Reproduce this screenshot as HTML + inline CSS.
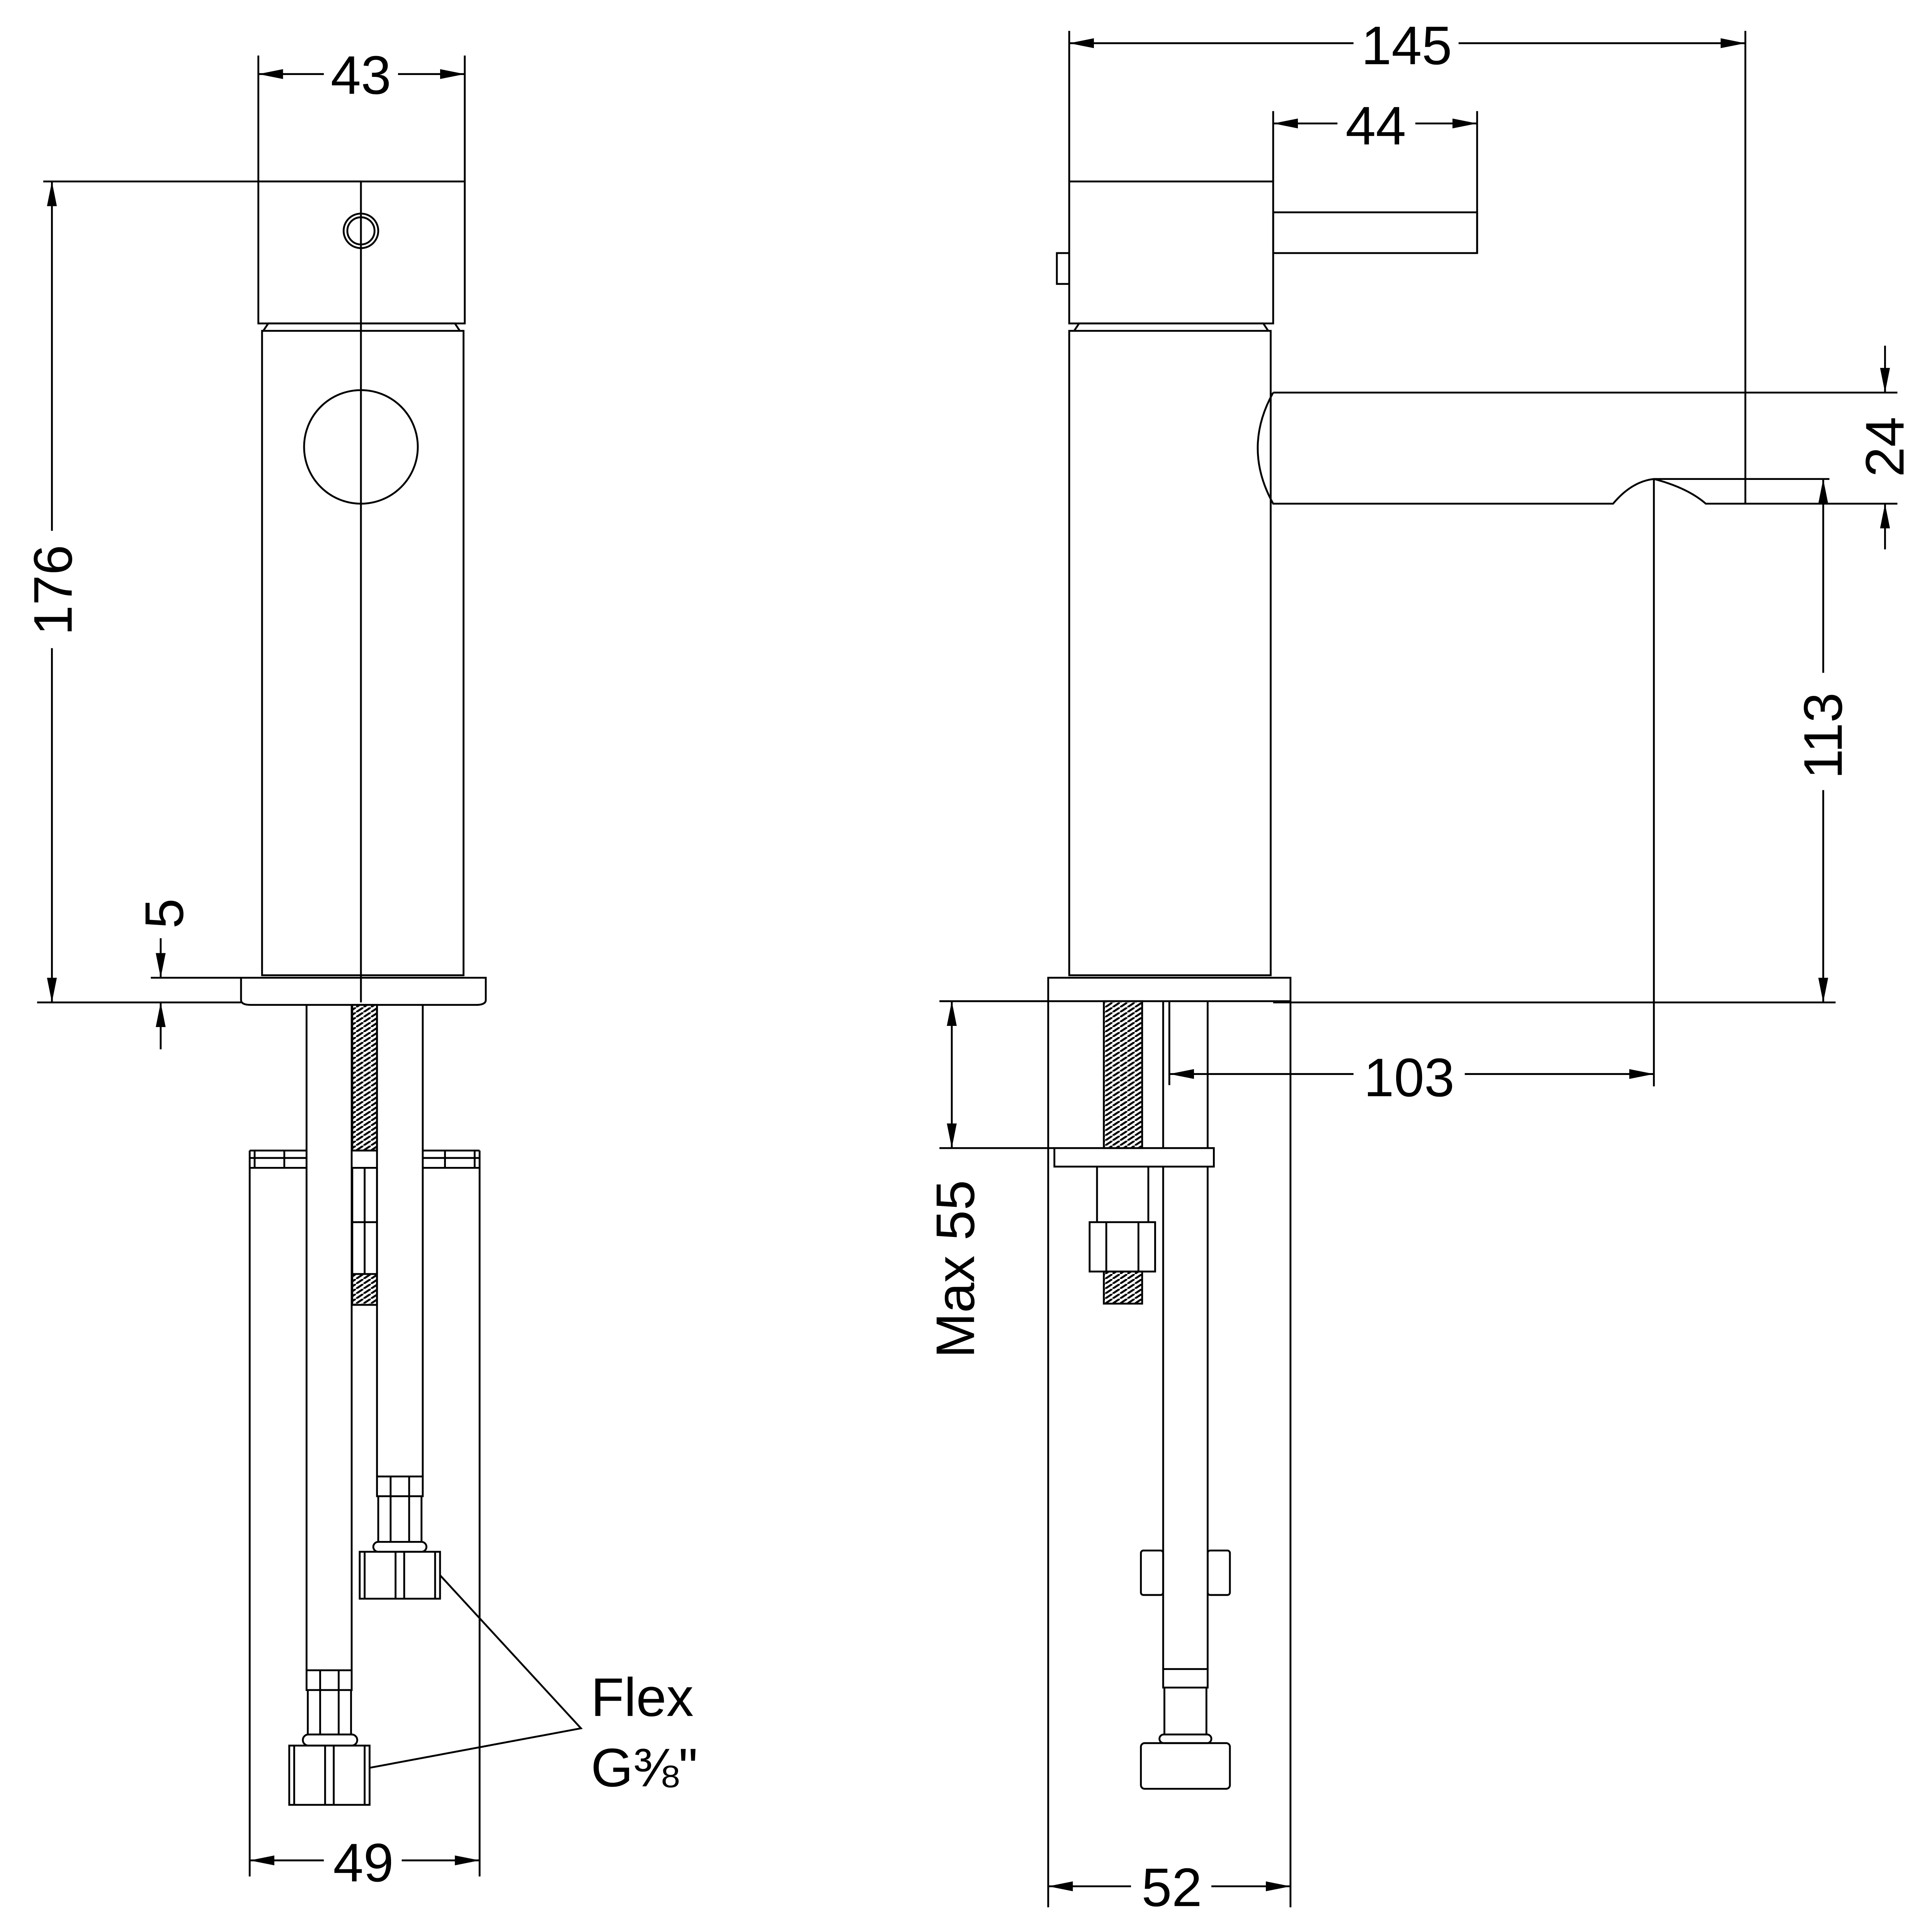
<!DOCTYPE html>
<html><head><meta charset="utf-8"><style>
html,body{margin:0;padding:0;background:#fff;width:100%;height:100%;overflow:hidden}
svg{display:block;width:100vw;height:100vh;position:absolute;left:0;top:0}
text{font-family:"Liberation Sans",sans-serif;font-size:44px;fill:#000}
</style></head><body>
<svg viewBox="0 0 1563 1565" preserveAspectRatio="none" xmlns="http://www.w3.org/2000/svg">
<defs>
<marker id="a" viewBox="0 0 20 8" refX="20" refY="4" markerWidth="20" markerHeight="8" markerUnits="userSpaceOnUse" orient="auto-start-reverse"><path d="M0,0 L20,4 L0,8 z" fill="#000"/></marker>
<pattern id="th" width="6" height="4" patternUnits="userSpaceOnUse"><rect width="6" height="4" fill="#fff"/><path d="M0,4 L6,0" stroke="#000" stroke-width="1.6"/></pattern>
</defs>
<rect width="1563" height="1565" fill="#fff"/>
<g fill="none" stroke="#000" stroke-width="1.5">
<!-- LEFT VIEW -->
<line x1="209" y1="45" x2="209" y2="147"/><line x1="376" y1="45" x2="376" y2="147"/>
<line x1="209" y1="60" x2="262" y2="60" marker-start="url(#a)"/><line x1="322" y1="60" x2="376" y2="60" marker-end="url(#a)"/>
<rect x="209" y="147" width="167" height="115"/>
<circle cx="292" cy="187" r="14"/><circle cx="292" cy="187" r="11"/>
<line x1="292" y1="147" x2="292" y2="812"/>
<path d="M213,268 L217,262 L368,262 L372,268"/>
<rect x="212" y="268" width="163" height="522"/>
<circle cx="292" cy="362" r="46"/>
<path d="M195,792 H393 V810 Q393,814 385,814 H203 Q195,814 195,810 Z"/>
<line x1="35" y1="147" x2="292" y2="147"/><line x1="30" y1="812" x2="195" y2="812"/>
<line x1="42" y1="147" x2="42" y2="430" marker-start="url(#a)"/><line x1="42" y1="525" x2="42" y2="812" marker-end="url(#a)"/>
<line x1="122" y1="792" x2="195" y2="792"/>
<line x1="130" y1="760" x2="130" y2="792" marker-end="url(#a)"/><line x1="130" y1="850" x2="130" y2="812" marker-end="url(#a)"/>
<rect x="285" y="814" width="20" height="118" fill="url(#th)"/>
<line x1="285" y1="946" x2="285" y2="1032"/><line x1="305" y1="946" x2="305" y2="1032"/>
<line x1="285" y1="990" x2="305" y2="990"/><line x1="295" y1="946" x2="295" y2="1032"/>
<rect x="285" y="1032" width="20" height="25" fill="url(#th)"/>
<line x1="248" y1="814" x2="248" y2="1353"/><line x1="284.5" y1="814" x2="284.5" y2="1353"/>
<line x1="305" y1="814" x2="305" y2="1196"/><line x1="342" y1="814" x2="342" y2="1196"/>
<line x1="202" y1="932" x2="202" y2="1520"/><line x1="388" y1="932" x2="388" y2="1520"/>
<path d="M202,932 H248 M202,938 H248 M202,946 H248 M342,932 H388 M342,938 H388 M342,946 H388 M284.5,932 H305 M284.5,946 H305"/>
<path d="M206,932 V946 M230,932 V946 M360,932 V946 M384,932 V946"/>
<line x1="202" y1="1507" x2="262" y2="1507" marker-start="url(#a)"/><line x1="325" y1="1507" x2="388" y2="1507" marker-end="url(#a)"/>
<!-- left hose fitting -->
<rect x="248" y="1353" width="36.5" height="16"/><line x1="259" y1="1353" x2="259" y2="1405"/><line x1="274" y1="1353" x2="274" y2="1405"/>
<line x1="249" y1="1369" x2="249" y2="1405"/><line x1="284" y1="1369" x2="284" y2="1405"/>
<rect x="245" y="1405" width="44" height="9" rx="4.5"/>
<rect x="234" y="1414" width="65" height="48"/><path d="M238,1414 V1462 M263,1414 V1462 M270,1414 V1462 M295,1414 V1462"/>
<!-- right hose fitting -->
<rect x="305" y="1196" width="37" height="16"/><line x1="316" y1="1196" x2="316" y2="1249"/><line x1="331" y1="1196" x2="331" y2="1249"/>
<line x1="306" y1="1212" x2="306" y2="1249"/><line x1="341" y1="1212" x2="341" y2="1249"/>
<rect x="302" y="1249" width="43" height="8" rx="4"/>
<rect x="291" y="1257" width="65" height="38"/><path d="M295,1257 V1295 M320,1257 V1295 M327,1257 V1295 M352,1257 V1295"/>
<polyline points="356,1276 470,1400 299,1432"/>
<!-- RIGHT VIEW -->
<line x1="865" y1="25" x2="865" y2="147"/><line x1="1412" y1="25" x2="1412" y2="408"/>
<line x1="865" y1="35" x2="1095" y2="35" marker-start="url(#a)"/><line x1="1180" y1="35" x2="1412" y2="35" marker-end="url(#a)"/>
<line x1="1030" y1="90" x2="1030" y2="147"/><line x1="1195" y1="90" x2="1195" y2="205"/>
<line x1="1030" y1="100" x2="1082" y2="100" marker-start="url(#a)"/><line x1="1145" y1="100" x2="1195" y2="100" marker-end="url(#a)"/>
<rect x="865" y="147" width="165" height="115"/>
<rect x="1030" y="172" width="165" height="33"/>
<rect x="855" y="205" width="10" height="25"/>
<path d="M869,268 L873,262 L1022,262 L1026,268"/>
<rect x="865" y="268" width="163" height="522"/>
<path d="M1030,318 H1535"/>
<path d="M1030,318 Q1005,363 1030,408 H1305 Q1320,390 1338,388 H1480"/>
<path d="M1338,388 Q1365,395 1380,408 H1535"/>
<line x1="1525" y1="280" x2="1525" y2="318" marker-end="url(#a)"/><line x1="1525" y1="445" x2="1525" y2="408" marker-end="url(#a)"/>
<line x1="1475" y1="388" x2="1475" y2="545" marker-start="url(#a)"/><line x1="1475" y1="640" x2="1475" y2="812" marker-end="url(#a)"/>
<line x1="1030" y1="812" x2="1485" y2="812"/>
<line x1="1338" y1="388" x2="1338" y2="880"/>
<line x1="946" y1="811" x2="946" y2="879"/>
<line x1="946" y1="870" x2="1095" y2="870" marker-start="url(#a)"/><line x1="1185" y1="870" x2="1338" y2="870" marker-end="url(#a)"/>
<rect x="848" y="792" width="196" height="19"/>
<line x1="848" y1="811" x2="848" y2="1545"/><line x1="1044" y1="811" x2="1044" y2="1545"/>
<line x1="848" y1="1528" x2="915" y2="1528" marker-start="url(#a)"/><line x1="980" y1="1528" x2="1044" y2="1528" marker-end="url(#a)"/>
<line x1="760" y1="811" x2="848" y2="811"/><line x1="760" y1="930" x2="853" y2="930"/>
<line x1="770" y1="811" x2="770" y2="930" marker-start="url(#a)" marker-end="url(#a)"/>
<rect x="853" y="930" width="129" height="15"/>
<rect x="893" y="811" width="31" height="119" fill="url(#th)"/>
<line x1="887.5" y1="945" x2="887.5" y2="990"/><line x1="929" y1="945" x2="929" y2="990"/>
<rect x="881.5" y="990" width="53" height="40"/><line x1="895" y1="990" x2="895" y2="1030"/><line x1="921" y1="990" x2="921" y2="1030"/>
<rect x="893" y="1030" width="31" height="26" fill="url(#th)"/>
<line x1="941" y1="811" x2="941" y2="930"/><line x1="977" y1="811" x2="977" y2="930"/>
<line x1="941" y1="945" x2="941" y2="1352"/><line x1="977" y1="945" x2="977" y2="1352"/>
<rect x="923" y="1256" width="18" height="36" rx="2"/><rect x="977" y="1256" width="18" height="36" rx="2"/>
<rect x="941" y="1352" width="36" height="15"/>
<line x1="942" y1="1367" x2="942" y2="1405"/><line x1="976" y1="1367" x2="976" y2="1405"/>
<rect x="938" y="1405" width="42" height="7" rx="3.5"/>
<rect x="923" y="1412" width="72" height="37" rx="3"/>
</g>
<text x="292" y="76" text-anchor="middle">43</text>
<text x="294" y="1524" text-anchor="middle">49</text>
<text transform="translate(58,478) rotate(-90)" text-anchor="middle">176</text>
<text transform="translate(148,740) rotate(-90)" text-anchor="middle">5</text>
<text x="478" y="1390">Flex</text>
<text x="478" y="1447">G⅜"</text>
<text x="1138" y="52" text-anchor="middle">145</text>
<text x="1113" y="117" text-anchor="middle">44</text>
<text x="1140" y="888" text-anchor="middle">103</text>
<text x="948" y="1544" text-anchor="middle">52</text>
<text transform="translate(1540,362) rotate(-90)" text-anchor="middle">24</text>
<text transform="translate(1490,596) rotate(-90)" text-anchor="middle">113</text>
<text transform="translate(788,1028) rotate(-90)" text-anchor="middle">Max 55</text>
</svg>
</body></html>
